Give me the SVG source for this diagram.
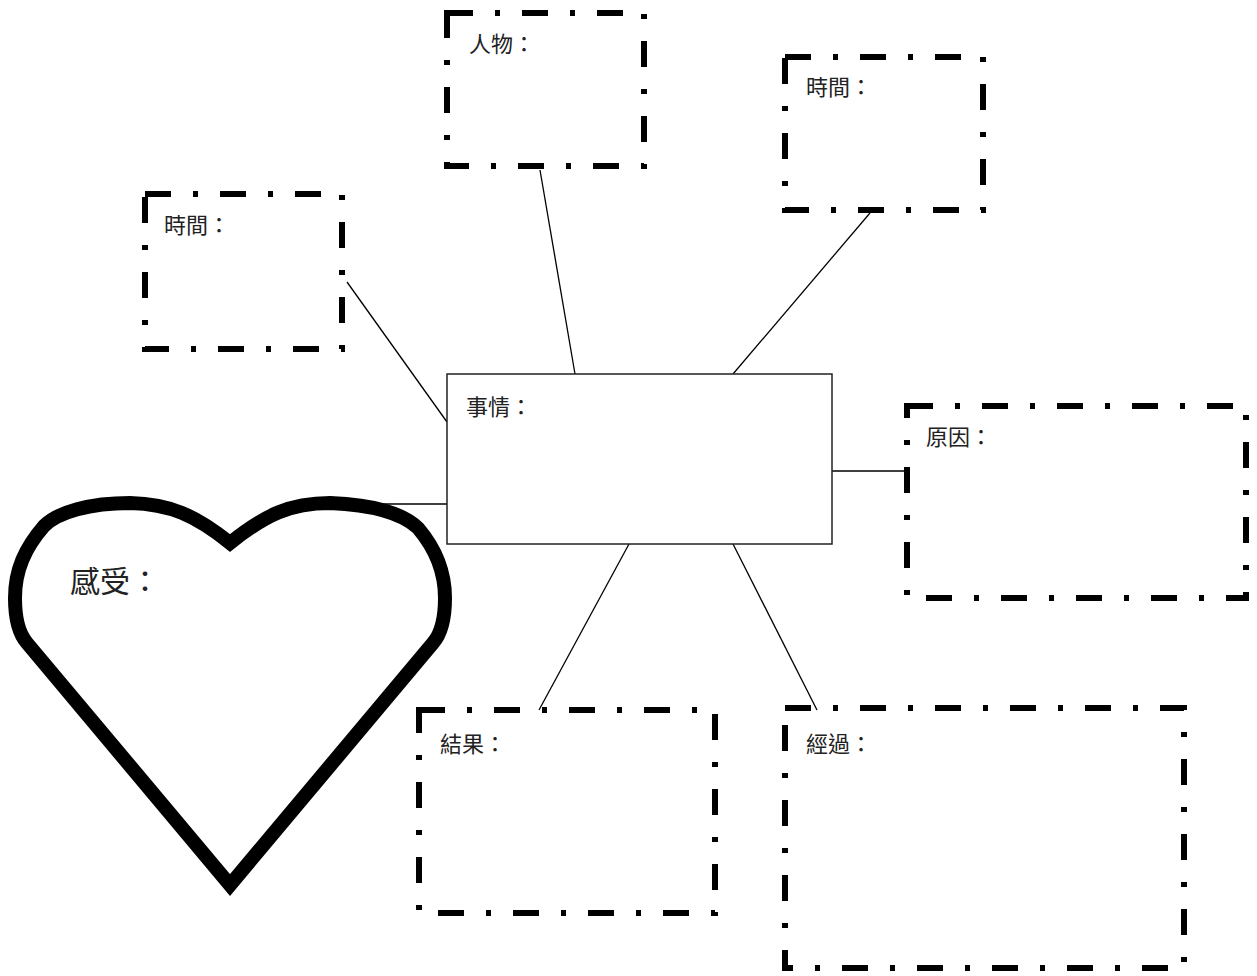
<svg xmlns="http://www.w3.org/2000/svg" width="1257" height="976" viewBox="0 0 1257 976">
<style>
.box{fill:none;stroke:#000;stroke-width:6;stroke-dasharray:26 22 5 22}
.main{fill:#fff;stroke:#222;stroke-width:1.5}
.conn line{stroke:#000;stroke-width:1.3}
text{font-family:"Liberation Serif","Noto Sans CJK TC",serif;font-size:22px;fill:#222}
.heart{fill:#fff;stroke:#000;stroke-width:14;stroke-linejoin:miter}
</style>
<rect width="1257" height="976" fill="#fff"/>
<g class="conn" id="connectors">
<line x1="540" y1="170" x2="575" y2="374"/>
<line x1="870" y1="213" x2="733" y2="374"/>
<line x1="347" y1="282" x2="447" y2="422"/>
<line x1="366" y1="504" x2="447" y2="504"/>
<line x1="832" y1="471" x2="907" y2="471"/>
<line x1="629" y1="544" x2="539" y2="710"/>
<line x1="733" y1="544" x2="817" y2="710"/>
</g>
<g id="heart">
<path class="heart" d="M230,543 C195,515 170,504 130,503 C90,503 58,512 44,526 C25,548 15,570 15,598 C15,620 20,635 27,643 L230,885 L433,643 C440,635 445,620 445,598 C445,570 435,548 418,528 C402,513 375,505 330,503 C290,503 265,515 230,543 Z"/>
<text x="70" y="592" style="font-size:30px">感受：</text>
</g>
<g id="n-event">
<rect class="main" x="447" y="374" width="385" height="170"/>
<text x="466" y="415">事情：</text>
</g>
<g id="n-people">
<rect class="box" x="447" y="13" width="197" height="153"/>
<text x="469" y="52">人物：</text>
</g>
<g id="n-time-right">
<rect class="box" x="785" y="57" width="198" height="153"/>
<text x="806" y="95">時間：</text>
</g>
<g id="n-time-left">
<rect class="box" x="145" y="194" width="197" height="155"/>
<text x="164" y="233">時間：</text>
</g>
<g id="n-reason">
<rect class="box" x="907" y="406" width="339" height="192"/>
<text x="926" y="445">原因：</text>
</g>
<g id="n-result">
<rect class="box" x="419" y="710" width="296" height="203"/>
<text x="440" y="752">結果：</text>
</g>
<g id="n-process">
<rect class="box" x="785" y="708" width="399" height="260"/>
<text x="806" y="752">經過：</text>
</g>
</svg>
